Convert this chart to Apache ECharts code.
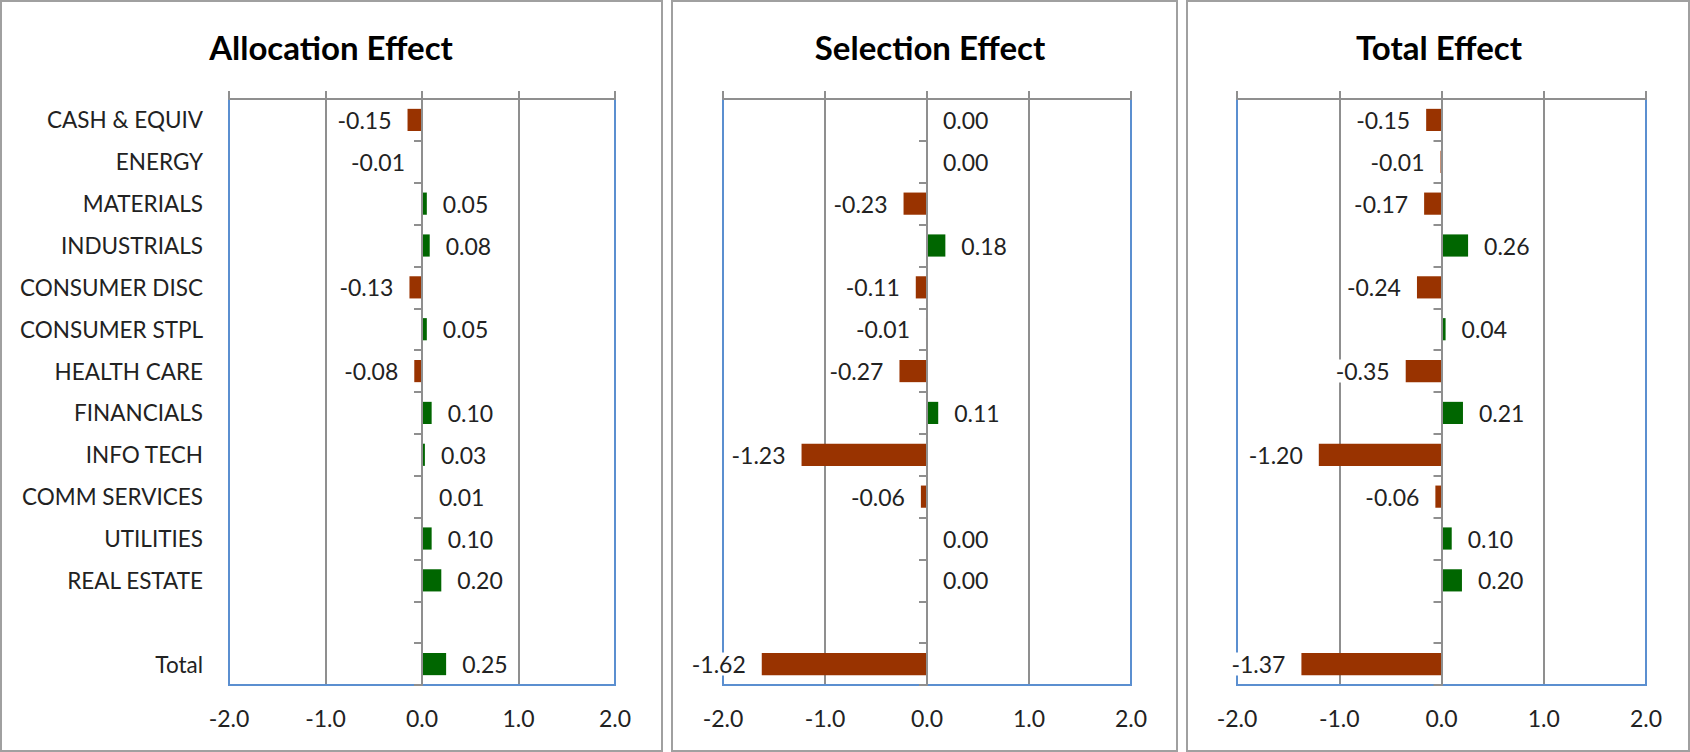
<!DOCTYPE html>
<html>
<head>
<meta charset="utf-8">
<script src="https://cdn.jsdelivr.net/npm/echarts@6/dist/echarts.min.js"></script>
<style>
html,body{margin:0;padding:0;background:#fff;}
#c{width:1690px;height:752px;}
</style>
</head>
<body>
<div id="c"></div>
<script>
const categories = ['CASH & EQUIV','ENERGY','MATERIALS','INDUSTRIALS','CONSUMER DISC','CONSUMER STPL','HEALTH CARE','FINANCIALS','INFO TECH','COMM SERVICES','UTILITIES','REAL ESTATE','','Total'];
const allocation = [-0.15,-0.01,0.05,0.08,-0.13,0.05,-0.08,0.10,0.03,0.01,0.10,0.20,null,0.25];
const selection = [0.00,0.00,-0.23,0.18,-0.11,-0.01,-0.27,0.11,-1.23,-0.06,0.00,0.00,null,-1.62];
const total = [-0.15,-0.01,-0.17,0.26,-0.24,0.04,-0.35,0.21,-1.20,-0.06,0.10,0.20,null,-1.37];
const titles = ['Allocation Effect','Selection Effect','Total Effect'];
const xTicks = [-2,-1,0,1,2];

const FONT = 'Lato';
const GRAY = '#8f8f8f';
const BLUE = '#5b8fd0';
const NEG = '#993300';
const POS = '#006600';

const panels = [
  {x0:1, x1:662, gl:229, gw:386, tx:331},
  {x0:672, x1:1177, gl:723, gw:408, tx:930},
  {x0:1187, x1:1689, gl:1237, gw:409, tx:1439}
];
const seriesData = [allocation, selection, total];

const grid = [], xAxis = [], yAxis = [], series = [], graphic = [];
panels.forEach((p, i) => {
  grid.push({left:p.gl, top:99, width:p.gw, height:586, show:true, borderColor:BLUE, borderWidth:2, backgroundColor:'transparent', containLabel:false, z:4});
  // bottom value axis with labels + gridlines
  xAxis.push({gridIndex:i, type:'value', position:'bottom', min:xTicks[0], max:xTicks[xTicks.length-1], interval:1,
    axisLine:{show:false}, axisTick:{show:false},
    axisLabel:{fontFamily:FONT, fontSize:23, color:'#222', margin:21, formatter:v=>v.toFixed(1)},
    splitLine:{show:true, showMinLine:false, showMaxLine:false, lineStyle:{color:GRAY, width:2}}});
  // top axis line with outward ticks
  xAxis.push({gridIndex:i, type:'value', position:'top', min:xTicks[0], max:xTicks[xTicks.length-1], interval:1, z:6,
    axisLine:{show:true, onZero:false, lineStyle:{color:GRAY, width:2}},
    axisTick:{show:true, inside:false, length:8, lineStyle:{color:GRAY, width:2}},
    axisLabel:{show:false}, splitLine:{show:false}});
  // category labels axis
  yAxis.push({gridIndex:i, type:'category', data:categories, inverse:true, position:'left',
    axisLine:{show:false, onZero:false}, axisTick:{show:false},
    axisLabel:{show:i===0, fontFamily:FONT, fontSize:22.5, color:'#222', margin:26, interval:0},
    splitLine:{show:false}});
  // zero axis with ticks
  yAxis.push({gridIndex:i, type:'category', data:categories, inverse:true, position:'left', z:7,
    axisLine:{show:true, onZero:true, onZeroAxisIndex:i*2, lineStyle:{color:GRAY, width:2}},
    axisTick:{show:true, inside:false, length:8, interval:0, lineStyle:{color:GRAY, width:2}},
    axisLabel:{show:false}, splitLine:{show:false}});
  const d = seriesData[i].map(v => v === null ? '-' : {
    value:v,
    itemStyle:{color: v < 0 ? NEG : POS},
    label:{position: v < 0 ? 'left' : 'right'}
  });
  series.push({type:'bar', xAxisIndex:i*2, yAxisIndex:i*2, data:d, barWidth:'53%', z:5,
    itemStyle:{borderWidth:0},
    label:{show:true, distance:15, fontFamily:FONT, fontSize:23, color:'#222', backgroundColor:'#fff', padding:[0,1],
      formatter:prm => (typeof prm.value === 'number' ? prm.value.toFixed(2) : '')}});
  graphic.push({type:'rect', shape:{x:p.x0, y:1, width:p.x1-p.x0, height:750}, style:{fill:'none', stroke:'#a0a0a0', lineWidth:2}, z:-1});
  graphic.push({type:'text', x:p.tx, y:47, style:{text:titles[i], fontFamily:FONT, fontWeight:'bold', fontSize:33, fill:'#000', textAlign:'center', textVerticalAlign:'middle'}});
});

const chart = echarts.init(document.getElementById('c'), null, {renderer:'svg'});
chart.setOption({animation:false, grid, xAxis, yAxis, series, graphic});
</script>
</body>
</html>
